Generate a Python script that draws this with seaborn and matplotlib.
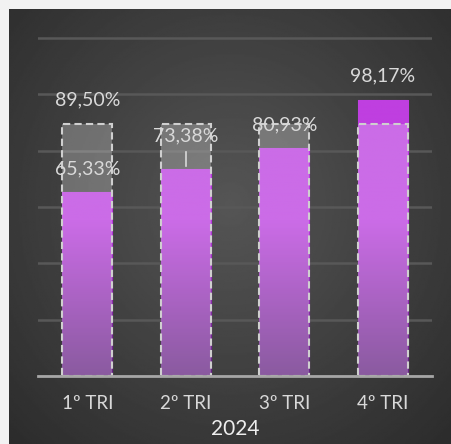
import numpy as np
import pandas as pd
import matplotlib.pyplot as plt
import seaborn as sns

# chart data
quarters = ["1º TRI", "2º TRI", "3º TRI", "4º TRI"]
actual = [65.33, 73.38, 80.93, 98.17]
target = [89.50, 89.50, 89.50, 89.50]
show_target_label = [True, False, False, False]
year = "2024"

df = pd.DataFrame({"trimestre": quarters, "real": actual, "meta": target})

plt.rcParams["font.family"] = ["Lato", "DejaVu Sans"]
txt_color = "#d9d9d9"

fig = plt.figure(figsize=(4.51, 4.44), dpi=100, facecolor="#f2f2f2")

# dark panel with a soft radial light in the middle
bg = fig.add_axes([9 / 451, 0, 442 / 451, 435 / 444])
yy, xx = np.mgrid[0:1:300j, 0:1:300j]
r = np.hypot((xx - 0.5) / 0.75, (yy - 0.45) / 0.8)
shade = 0.335 - 0.17 * np.clip(r, 0, 1)
bg.imshow(shade, cmap="gray", vmin=0, vmax=1, extent=(0, 1, 0, 1),
          aspect="auto", origin="upper")
bg.set_axis_off()

ax = fig.add_axes([38 / 451, 68 / 444, 394 / 451, 340.8 / 444])
ax.patch.set_alpha(0)

sns.barplot(data=df, x="trimestre", y="real", color="#bf3fe0", saturation=1,
            width=0.51, ax=ax)
n = len(quarters)
bars = list(ax.patches[:n])
sns.barplot(data=df, x="trimestre", y="meta", color="white", saturation=1,
            width=0.51, ax=ax)
goals = list(ax.patches[n:])

# vertical gradient inside the actual bars (under the goal overlay)
low = np.array([99, 36, 128]) / 255
high = np.array([186, 59, 223]) / 255
above = np.array([191, 63, 224]) / 255
for p, t in zip(bars, target):
    x0, w, h = p.get_x(), p.get_width(), p.get_height()
    ys = np.linspace(0, h, 300)
    f = np.clip(ys / 55, 0, 1)[:, None]
    col = low * (1 - f) + high * f
    col[ys > t] = above
    img = np.repeat(col[:, None, :], 2, axis=1)
    im = ax.imshow(img, extent=(x0, x0 + w, 0, h), origin="lower",
                   aspect="auto", zorder=1.5)
    im.set_clip_path(p)
    p.set_edgecolor("#9a2fc0")
    p.set_linewidth(0.8)

for p in goals:
    p.set_facecolor((1, 1, 1, 0.25))
    p.set_edgecolor("#cfcfcf")
    p.set_linestyle((0, (3.5, 2)))
    p.set_linewidth(1.5)
    p.set_zorder(2)

# labels
fmt = lambda v: f"{v:.2f}%".replace(".", ",")
offsets = [17, 24, 17, 17]
for i, (v, off) in enumerate(zip(actual, offsets)):
    ax.annotate(fmt(v), xy=(i, v), xytext=(0, off), textcoords="offset points",
                ha="center", va="center", fontsize=14, color=txt_color, zorder=4)
    if off > 17:
        ax.plot([i, i], [v + 1.2, v + 6.3], color=txt_color, lw=1.2, zorder=4)
for i, (t, show) in enumerate(zip(target, show_target_label)):
    if show:
        ax.annotate(fmt(t), xy=(i, t), xytext=(0, 17), textcoords="offset points",
                    ha="center", va="center", fontsize=14, color=txt_color, zorder=4)

ax.set_xlim(-0.5, n - 0.5)
ax.set_ylim(0, 121)
ax.set_yticks(np.arange(0, 121, 20))
ax.set_yticklabels([])
ax.grid(axis="y", color="#585858", lw=1.8)
ax.set_axisbelow(True)
ax.tick_params(axis="y", length=0)
ax.tick_params(axis="x", length=0, pad=14, labelcolor=txt_color, labelsize=13.5)
for s in ["left", "right", "top"]:
    ax.spines[s].set_visible(False)
ax.spines["bottom"].set_color("#a6a6a6")
ax.spines["bottom"].set_linewidth(2)
ax.spines["bottom"].set_zorder(3)
ax.set_ylabel("")
ax.set_xlabel(year, color="#eeeeee", fontsize=15, labelpad=5)

fig.savefig("out.png", dpi=100, facecolor=fig.get_facecolor())
